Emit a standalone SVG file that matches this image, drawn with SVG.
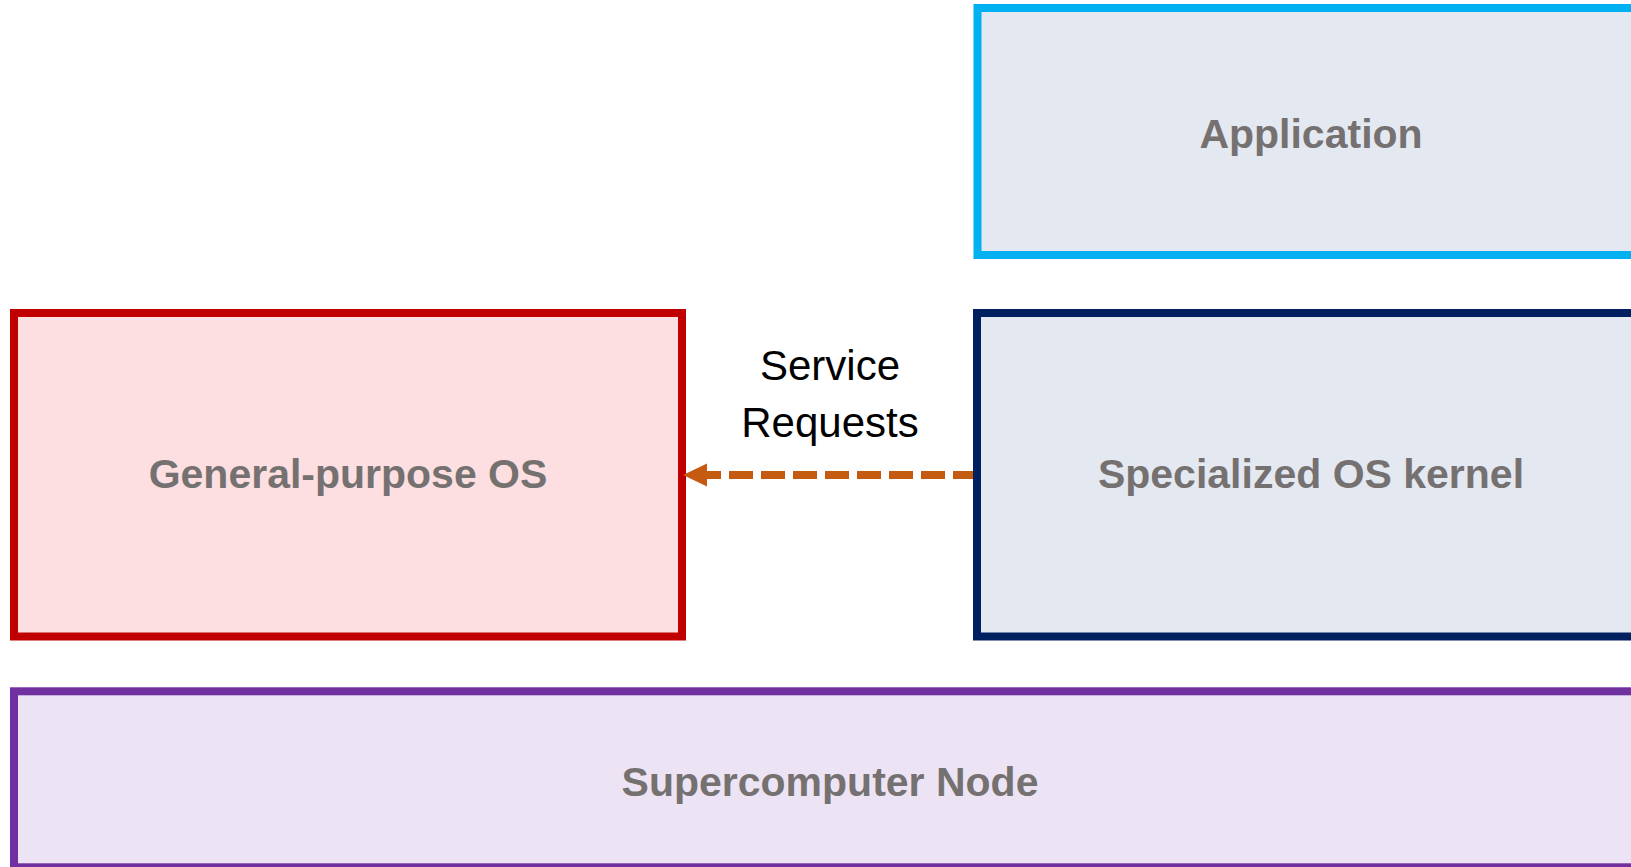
<svg xmlns="http://www.w3.org/2000/svg" width="1631" height="867" viewBox="0 0 1631 867">
<style>
.box{stroke-width:8}
.lbl{font-family:"Liberation Sans",Arial,sans-serif;font-weight:bold;font-size:41px;fill:#767171;text-anchor:middle}
.conn{font-family:"Liberation Sans",Arial,sans-serif;font-size:42px;fill:#000;text-anchor:middle}
</style>
<rect width="1631" height="867" fill="#fff"/>
<g id="application">
<rect class="box" x="977.5" y="8" width="670" height="247" fill="#E4E8F1" stroke="#00B0F0"/>
<text class="lbl" x="1311" y="148">Application</text>
</g>
<g id="gpos">
<rect class="box" x="14" y="313" width="668" height="323.5" fill="#FDDFE1" stroke="#C00000"/>
<text class="lbl" x="348" y="488">General-purpose OS</text>
</g>
<g id="connectors">
<line x1="977" y1="475" x2="706" y2="475" stroke="#C55A11" stroke-width="8" stroke-dasharray="24 8"/>
<polygon points="683,475 707,463.5 707,486.5" fill="#C55A11"/>
<text class="conn" x="830" y="380">Service</text>
<text class="conn" x="830" y="437">Requests</text>
</g>
<g id="kernel">
<rect class="box" x="977" y="313" width="670" height="323.5" fill="#E4E8F1" stroke="#002060"/>
<text class="lbl" x="1311" y="488">Specialized OS kernel</text>
</g>
<g id="node">
<rect class="box" x="14" y="691.3" width="1634" height="176" fill="#ECE4F4" stroke="#7030A0"/>
<text class="lbl" x="830" y="796">Supercomputer Node</text>
</g>
</svg>
